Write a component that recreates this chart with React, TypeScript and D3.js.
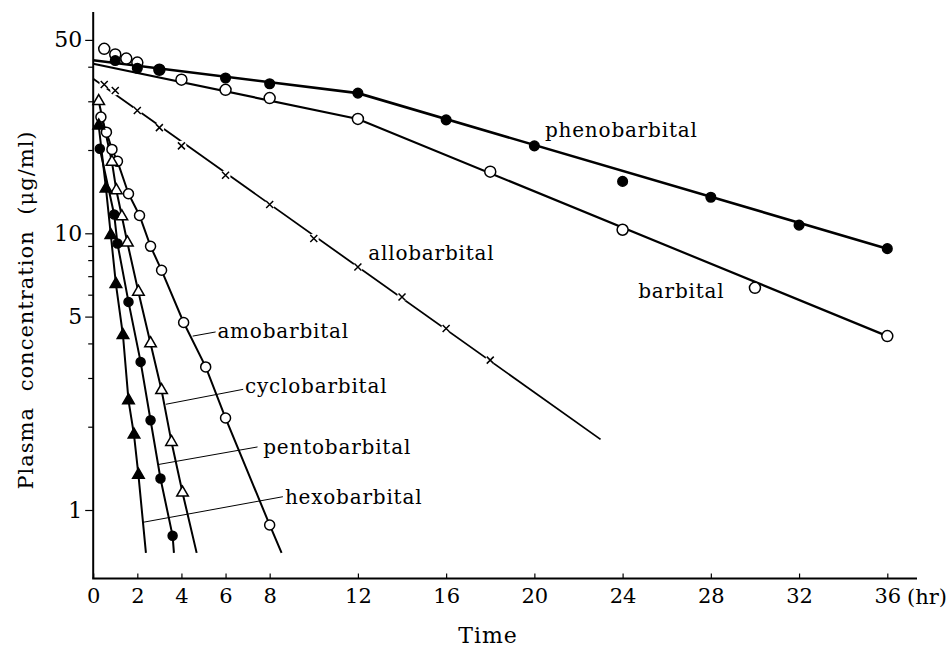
import React, { useEffect, useRef } from 'react';
import * as d3 from 'd3';

const xTicks = [0, 2, 4, 6, 8, 12, 16, 20, 24, 28, 32, 36];
const yTicks = [1, 2, 3, 4, 5, 6, 7, 8, 9, 10, 20, 30, 40, 50];
const yLabeled = [1, 5, 10, 50];

// phenobarbital: filled circles
const phenoT = [1, 2, 3, 6, 8, 12, 16, 20, 24, 28, 32, 36];
const phenoC = [42.1, 39.5, 39.0, 36.4, 34.7, 32.1, 25.7, 20.7, 15.4, 13.5, 10.7, 8.8];
const phenoFitT = [0, 12, 36];
const phenoFitC = [42.2, 32.1, 8.8];

// barbital: open circles
const barbT = [0.5, 1, 1.5, 2, 3, 4, 6, 8, 12, 18, 24, 30, 36];
const barbC = [46.4, 44.3, 42.8, 41.4, 39.0, 35.9, 33.0, 30.8, 25.9, 16.7, 10.3, 6.35, 4.25];
const barbFitT = [0, 12, 36];
const barbFitC = [41.0, 25.9, 4.25];

// allobarbital: crosses
const alloT = [0.5, 1, 2, 3, 4, 6, 8, 10, 12, 14, 16, 18];
const alloC = [34.5, 32.8, 27.8, 24.1, 20.7, 16.2, 12.7, 9.57, 7.56, 5.89, 4.53, 3.48];
const alloFitT = [0, 23];
const alloFitC = [36.2, 1.8];

// amobarbital: open circles
const amoT = [0.35, 0.6, 0.85, 1.1, 1.6, 2.1, 2.6, 3.1, 4.1, 5.1, 6, 8];
const amoC = [26.3, 23.2, 20.1, 18.2, 13.9, 11.6, 8.97, 7.35, 4.76, 3.29, 2.15, 0.883];
const amoEnd = [8.54, 0.7];

// cyclobarbital: open triangles
const cycloT = [0.25, 0.85, 1.05, 1.3, 1.55, 2.05, 2.6, 3.1, 3.55, 4.05];
const cycloC = [30.0, 18.1, 14.3, 11.5, 9.25, 6.14, 4.0, 2.71, 1.76, 1.155];
const cycloEnd = [4.69, 0.7];

// pentobarbital: filled circles
const pentoT = [0.3, 0.95, 1.1, 1.6, 2.15, 2.6, 3.05, 3.6];
const pentoC = [20.2, 11.7, 9.18, 5.65, 3.43, 2.11, 1.3, 0.807];
const pentoEnd = [3.66, 0.7];

// hexobarbital: filled triangles
const hexoT = [0.25, 0.58, 0.8, 1.03, 1.35, 1.6, 1.85, 2.05];
const hexoC = [24.5, 14.5, 9.84, 6.55, 4.28, 2.49, 1.87, 1.34];
const hexoEnd = [2.39, 0.7];

// labels: [text, t, c] and leader lines [t1, c1, t2, c2]
const labelNames = ['phenobarbital', 'barbital', 'allobarbital', 'amobarbital', 'cyclobarbital', 'pentobarbital', 'hexobarbital'];
const labelT = [20.48, 24.71, 12.47, 5.63, 6.88, 7.71, 8.69];
const labelC = [22.2, 5.82, 7.99, 4.19, 2.64, 1.59, 1.05];
const leaders = [
  null, null, null,
  [4.51, 4.25, 5.55, 4.4],
  [3.29, 2.41, 6.8, 2.73],
  [2.95, 1.46, 7.45, 1.69],
  [2.27, 0.903, 8.6, 1.117],
];

const FONT = '"DejaVu Serif", "Liberation Serif", serif';

export default function App() {
  const ref = useRef<SVGSVGElement>(null);

  useEffect(() => {
    const svg = d3.select(ref.current);
    svg.selectAll('*').remove();

    const x = d3.scaleLinear().domain([0, 36]).range([93.2, 887.3]);
    const y = d3.scaleLog().domain([1, 10]).range([510, 233.3]);
    const x0 = x(0), yBottom = 578.5;

    const g = svg.append('g');

    // axes lines
    g.append('line').attr('x1', x0).attr('x2', x0).attr('y1', 12).attr('y2', yBottom)
      .attr('stroke', '#000').attr('stroke-width', 2);
    g.append('line').attr('x1', x0 - 1).attr('x2', 917).attr('y1', yBottom).attr('y2', yBottom)
      .attr('stroke', '#000').attr('stroke-width', 2);

    // y axis ticks
    const yAxis = d3.axisLeft(y).tickValues(yTicks)
      .tickFormat((d: any) => (yLabeled.includes(d) ? String(d) : ''))
      .tickSize(7).tickPadding(4);
    const ya = g.append('g').attr('transform', `translate(${x0},0)`).call(yAxis);
    ya.select('.domain').remove();
    ya.selectAll('line').attr('stroke-width', 1.2)
      .attr('x2', (d: any) => (yLabeled.includes(d) ? -8 : -5));
    ya.selectAll('text').attr('font-family', FONT).attr('font-size', 22).attr('fill', '#000');

    // x axis ticks
    const xAxis = d3.axisBottom(x).tickValues(xTicks).tickSizeInner(-5).tickSizeOuter(0).tickPadding(10);
    const xa = g.append('g').attr('transform', `translate(0,${yBottom})`).call(xAxis);
    xa.select('.domain').remove();
    xa.selectAll('line').attr('stroke-width', 1.2);
    xa.selectAll('text').attr('font-family', FONT).attr('font-size', 21).attr('fill', '#000');

    g.append('text').attr('x', 907).attr('y', 604).attr('font-family', FONT).attr('font-size', 21)
      .text('(hr)');

    // axis titles
    g.append('text').attr('x', 488).attr('y', 643).attr('text-anchor', 'middle')
      .attr('font-family', FONT).attr('font-size', 22).attr('letter-spacing', 1).text('Time');
    g.append('text').attr('transform', 'translate(33,310) rotate(-90)').attr('text-anchor', 'middle')
      .attr('font-family', FONT).attr('font-size', 21).attr('letter-spacing', 1)
      .attr('word-spacing', 8)
      .text('Plasma concentration (\u03bcg/ml)');

    const line = d3.line<number[]>().x(d => x(d[0])).y(d => y(d[1]));
    const pts = (ts: number[], cs: number[]) => ts.map((t, i) => [t, cs[i]]);

    // fitted lines
    g.append('path').attr('d', line(pts(phenoFitT, phenoFitC))).attr('fill', 'none')
      .attr('stroke', '#000').attr('stroke-width', 2.6);
    g.append('path').attr('d', line(pts(barbFitT, barbFitC))).attr('fill', 'none')
      .attr('stroke', '#000').attr('stroke-width', 2.2);
    g.append('path').attr('d', line(pts(alloFitT, alloFitC))).attr('fill', 'none')
      .attr('stroke', '#000').attr('stroke-width', 1.8);

    const fast = [
      [amoT, amoC, amoEnd],
      [cycloT, cycloC, cycloEnd],
      [pentoT, pentoC, pentoEnd],
      [hexoT, hexoC, hexoEnd],
    ] as [number[], number[], number[]][];
    fast.forEach(([ts, cs, end]) => {
      g.append('path').attr('d', line([...pts(ts, cs), end])).attr('fill', 'none')
        .attr('stroke', '#000').attr('stroke-width', 2);
    });

    // leader lines
    leaders.forEach(l => {
      if (!l) return;
      g.append('line').attr('x1', x(l[0])).attr('y1', y(l[1])).attr('x2', x(l[2])).attr('y2', y(l[3]))
        .attr('stroke', '#000').attr('stroke-width', 1);
    });

    // markers
    const tri = d3.symbol().type(d3.symbolTriangle).size(58);
    const circles = (ts: number[], cs: number[], filled: boolean, r: number) => {
      g.append('g').selectAll('circle').data(pts(ts, cs)).enter().append('circle')
        .attr('cx', d => x(d[0])).attr('cy', d => y(d[1])).attr('r', r)
        .attr('fill', filled ? '#000' : '#fff').attr('stroke', '#000').attr('stroke-width', 1.5);
    };
    const triangles = (ts: number[], cs: number[], filled: boolean) => {
      g.append('g').selectAll('path').data(pts(ts, cs)).enter().append('path')
        .attr('d', tri()).attr('transform', d => `translate(${x(d[0])},${y(d[1])})`)
        .attr('fill', filled ? '#000' : '#fff').attr('stroke', '#000').attr('stroke-width', 1.5);
    };

    circles(barbT, barbC, false, 5.5);
    circles(phenoT, phenoC, true, 4.8);
    circles(amoT, amoC, false, 5);
    triangles(cycloT, cycloC, false);
    circles(pentoT, pentoC, true, 4.5);
    triangles(hexoT, hexoC, true);

    // allobarbital crosses with gaps in the line
    const ag = g.append('g').selectAll('g').data(pts(alloT, alloC)).enter().append('g')
      .attr('transform', d => `translate(${x(d[0])},${y(d[1])})`);
    ag.append('circle').attr('r', 5).attr('fill', '#fff');
    ag.append('path').attr('d', 'M-3.5,-3.5L3.5,3.5M-3.5,3.5L3.5,-3.5')
      .attr('stroke', '#000').attr('stroke-width', 1.5);

    // series labels
    labelNames.forEach((name, i) => {
      g.append('text').attr('x', x(labelT[i])).attr('y', y(labelC[i]))
        .attr('font-family', FONT).attr('font-size', 20).attr('letter-spacing', 0.8)
        .text(name);
    });
  }, []);

  return (
    <svg ref={ref} width={952} height={649}
      style={{ position: 'absolute', left: 0, top: 0, background: '#fff' }} />
  );
}
